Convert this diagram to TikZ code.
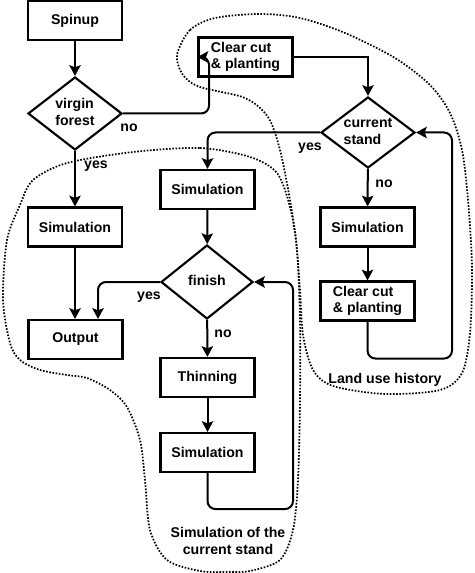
\documentclass[tikz,border=0pt]{standalone}
\usepackage{fontspec}
\setmainfont{Liberation Sans}
\usetikzlibrary{shapes.geometric,arrows.meta,calc}
\newcommand{\nodefont}{\bfseries\fontsize{10.6}{12.5}\selectfont}
\newcommand{\dlab}[1]{\makebox[0pt]{\raisebox{-0.55em}{\smash{\begin{tabular}{@{}l@{}}#1\end{tabular}}}}}
\begin{document}
\begin{tikzpicture}[x=0.75pt,y=-0.75pt,
  box/.style={draw, line width=1.6pt, minimum width=70.5pt, minimum height=29.25pt, inner sep=0pt, align=left, font=\nodefont},
  dia/.style={draw, diamond, line width=1.6pt, minimum width=70.5pt, minimum height=54.75pt, inner sep=0pt, font=\nodefont},
  conn/.style={line width=1.5pt, -{Stealth[length=8pt,width=8.5pt,inset=1.5pt]}},
  lab/.style={font=\nodefont, inner sep=0pt},
  blob/.style={line width=1.3pt, dash pattern=on 1.2pt off 1.2pt}]
\useasboundingbox (0,0) rectangle (474,573);
% nodes
\node[box] (spin) at (75,20.5) {Spinup};
\node[dia] (virgin) at (75,113.5) {\dlab{virgin\\forest}};
\node[box] (clear1) at (245.5,57) {Clear cut\\\& planting};
\node[dia, minimum height=53.25pt] (current) at (368,132.5) {\dlab{current\\stand}};
\node[box] (sim2) at (207.5,189.5) {Simulation};
\node[box] (sim3) at (367.5,227) {Simulation};
\node[box] (clear2) at (367.5,301) {Clear cut\\\& planting};
\node[box] (sim1) at (75,227) {Simulation};
\node[box] (out) at (75.5,339.5) {Output};
\node[dia, minimum width=69pt, minimum height=55.5pt] (finish) at (207,282) {\dlab{finish}};
\node[box] (thin) at (207.5,377.5) {Thinning};
\node[box] (sim4) at (207.5,452.5) {Simulation};
% connectors
\draw[conn] (spin) -- (virgin);
\draw[conn, rounded corners=6pt] (virgin.east) -- ++(86,0) |- (clear1.west);
\draw[conn] (clear1.east) -| (current.north);
\draw[conn, rounded corners=6pt] (current.west) -| (sim2.north);
\draw[conn] (current) -- (sim3);
\draw[conn] (sim3) -- (clear2);
\draw[conn, rounded corners=6pt] (clear2.south) -- ++(0,37) -- ++(84.5,0) |- (current.east);
\draw[conn] (virgin) -- (sim1);
\draw[conn] (sim1.south) -- (sim1.south |- out.north);
\draw[conn, rounded corners=6pt] (finish.west) -| ($(out.north)+(22.5,0)$);
\draw[conn] (sim2) -- (finish);
\draw[conn] (finish) -- (thin);
\draw[conn] (thin) -- (sim4);
\draw[conn, rounded corners=6pt] (sim4.south) -- ++(0,36) -- ++(85.5,0) |- (finish.east);
% labels
\node[lab] (no1) at (129,128) {no};
\node[lab] (yes1) at (96,166) {yes};
\node[lab] (yes2) at (310,148) {yes};
\node[lab] (no2) at (384,184) {no};
\node[lab] (yes3) at (149,297) {yes};
\node[lab] (no3) at (223,334) {no};
\node[lab] (landuse) at (385,380) {Land use history};
\node[lab, align=center] (simcur) at (228,541) {Simulation of the\\current stand};
% dotted regions
\draw[blob] plot[smooth cycle] coordinates {(177,55) (190,30) (215,18) (260,14) (300,18) (345,33) (395,58) (430,85) (450,113) (462,150) (468,200) (472,267) (470,333) (462,373) (440,390) (385,394) (333,386) (313,370) (303,335) (300,290) (296,240) (290,200) (280,150) (268,117) (245,98) (200,87) (183,75)};
\draw[blob] plot[smooth cycle] coordinates {(133,152) (200,148) (250,157) (277,173) (290,207) (297,250) (300,320) (300,400) (298,480) (293,530) (280,560) (250,571) (228,572) (200,571) (167,560) (150,530) (145,480) (140,440) (127,407) (110,390) (87,378) (67,375) (40,370) (20,360) (10,343) (3,300) (7,240) (20,205) (33,180) (67,163)};
\end{tikzpicture}
\end{document}
